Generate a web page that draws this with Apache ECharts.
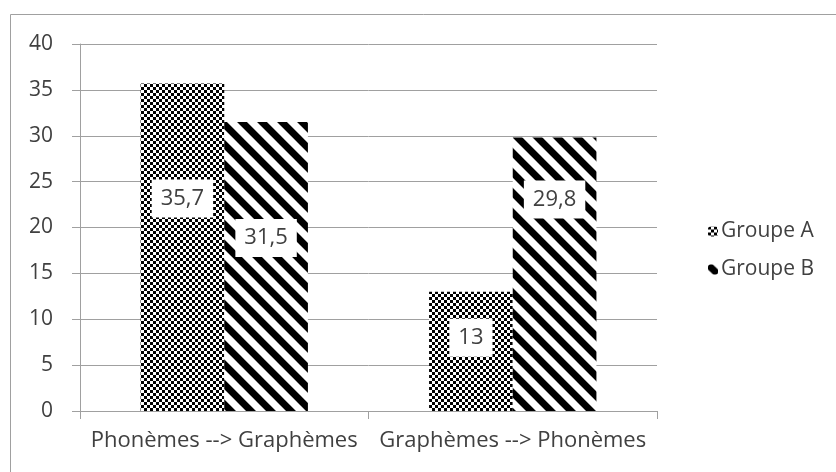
<!DOCTYPE html>
<html>
<head>
<meta charset="utf-8">
<script src="https://cdn.jsdelivr.net/npm/echarts@6/dist/echarts.min.js"></script>
<style>
  html, body { margin: 0; padding: 0; background: #fff; }
  #main { width: 836px; height: 472px; }
</style>
</head>
<body>
<div id="main"></div>
<script>
var categories = ['Phonèmes --> Graphèmes', 'Graphèmes --> Phonèmes'];
var seriesNames = ['Groupe A', 'Groupe B'];
var groupeA = [35.7, 13];
var groupeB = [31.5, 29.8];
var labelsA = ['35,7', '13'];
var labelsB = ['31,5', '29,8'];
// centre des étiquettes, mesuré depuis le haut de la barre
var offsetsA = [115, 46];
var offsetsB = [116, 62];

function checker() {
    var c = document.createElement('canvas');
    c.width = 6; c.height = 6;
    var ctx = c.getContext('2d');
    ctx.fillStyle = '#fff';
    ctx.fillRect(0, 0, 6, 6);
    ctx.fillStyle = '#000';
    ctx.fillRect(0, 0, 3, 3);
    ctx.fillRect(3, 3, 3, 3);
    return c;
}
function stripes() {
    var s = 20;
    var c = document.createElement('canvas');
    c.width = s; c.height = s;
    var ctx = c.getContext('2d');
    ctx.fillStyle = '#fff';
    ctx.fillRect(0, 0, s, s);
    ctx.strokeStyle = '#000';
    ctx.lineWidth = 7;
    ctx.beginPath();
    ctx.moveTo(-s, -s); ctx.lineTo(2 * s, 2 * s);
    ctx.moveTo(-s, 0); ctx.lineTo(s, 2 * s);
    ctx.moveTo(0, -s); ctx.lineTo(2 * s, s);
    ctx.stroke();
    return c;
}

var patA = { image: checker(), repeat: 'repeat' };
var patB = { image: stripes(), repeat: 'repeat' };

var boxH = 38;
function makeData(vals, labels, offs) {
    return vals.map(function (v, i) {
        return {
            value: v,
            label: { formatter: labels[i], position: 'insideTop', distance: offs[i] - boxH / 2 }
        };
    });
}

var labelStyle = {
    show: true,
    color: '#404040',
    fontSize: 22,
    lineHeight: 22,
    fontFamily: 'Open Sans',
    backgroundColor: '#fff',
    padding: [8, 9, 8, 9]
};

var myChart = echarts.init(document.getElementById('main'));
var option = {
    backgroundColor: '#fff',
    animation: false,
    textStyle: { fontFamily: 'Open Sans' },
    graphic: [{
        type: 'rect',
        shape: { x: 10.5, y: 14.5, width: 900, height: 600 },
        style: { fill: null, stroke: '#a0a0a0', lineWidth: 1 }
    }],
    grid: { left: 80, right: 836 - 657, top: 44, bottom: 472 - 411, containLabel: false },
    legend: {
        orient: 'vertical',
        left: 703,
        top: 216,
        itemWidth: 10,
        itemHeight: 10,
        itemGap: 17,
        textStyle: { fontSize: 21, color: '#404040', fontFamily: 'Open Sans', padding: [0, 0, 0, -2] },
        data: seriesNames
    },
    xAxis: {
        type: 'category',
        data: categories,
        axisLine: { lineStyle: { color: '#a0a0a0' } },
        axisTick: { show: true, length: 8, lineStyle: { color: '#a0a0a0' } },
        axisLabel: { fontSize: 22, color: '#404040', margin: 19, interval: 0 }
    },
    yAxis: {
        type: 'value',
        min: 0,
        max: 40,
        interval: 5,
        axisLine: { show: true, lineStyle: { color: '#a0a0a0' } },
        axisTick: { show: true, length: 8, lineStyle: { color: '#a0a0a0' } },
        axisLabel: { fontSize: 21, color: '#404040', margin: 27 },
        splitLine: { lineStyle: { color: '#a0a0a0' } }
    },
    series: [{
        name: seriesNames[0],
        type: 'bar',
        barGap: 0,
        barCategoryGap: '42%',
        itemStyle: { color: patA },
        label: labelStyle,
        data: makeData(groupeA, labelsA, offsetsA)
    }, {
        name: seriesNames[1],
        type: 'bar',
        itemStyle: { color: patB },
        label: labelStyle,
        data: makeData(groupeB, labelsB, offsetsB)
    }]
};
myChart.setOption(option);
</script>
</body>
</html>
